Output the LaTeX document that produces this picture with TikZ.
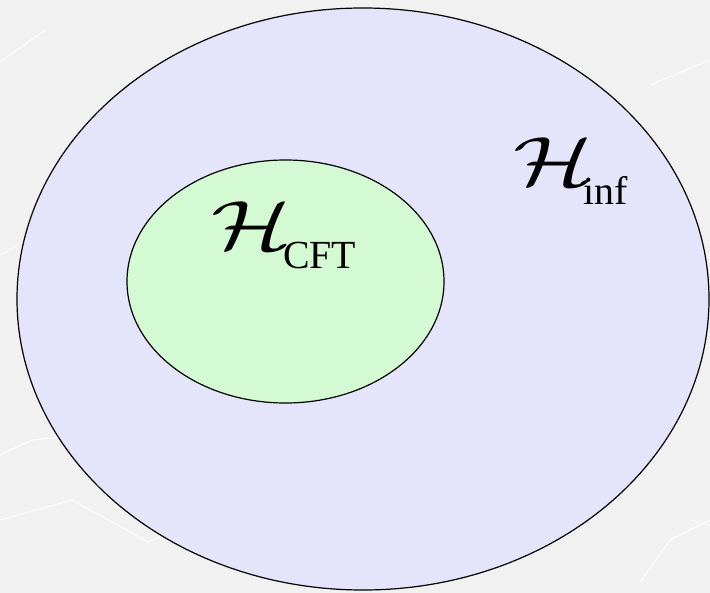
\RequirePackage{fix-cm}
\documentclass[tikz,border=0pt]{standalone}
\usepackage{amsmath}
\usepackage{graphicx}
\usepackage{fontspec}
\setmainfont{Liberation Serif}
\usetikzlibrary{shapes.geometric}
\definecolor{bgcol}{RGB}{241,241,241}
\definecolor{outerfill}{RGB}{228,228,251}
\definecolor{innerfill}{RGB}{212,250,212}
\newcommand{\bigH}{\scalebox{1.35}[1]{\fontsize{70}{80}\selectfont$\mathcal{H}$}}
\tikzset{
  region/.style={draw=black, line width=1.2bp},
  hglyph/.style={inner sep=0pt, anchor=base west},
  subtext/.style={font=\fontsize{40}{48}\selectfont, inner sep=0pt, anchor=base west},
  bgline/.style={draw=white, line width=1.2bp, opacity=0.8}
}
\begin{document}
\begin{tikzpicture}[x=1bp,y=-1bp]
\fill[bgcol] (0,0) rectangle (710,593);
\useasboundingbox (0,0) rectangle (710,593);
% faint background texture lines
\draw[bgline] (0,62) -- (45,30);
\draw[bgline] (0,520) -- (72,500) -- (148,542) -- (200,520);
\draw[bgline] (0,455) -- (32,440) -- (90,434);
\draw[bgline] (650,85) -- (710,60);
\draw[bgline] (640,582) -- (670,540) -- (710,520);
\draw[bgline] (0,255) -- (18,245);
\draw[bgline] (690,520) -- (710,525);
% regions
\node[region, ellipse, fill=outerfill, minimum width=692bp, minimum height=582bp, inner sep=0pt] (outer) at (363,299) {};
\node[region, ellipse, fill=innerfill, minimum width=317bp, minimum height=243bp, inner sep=0pt] (inner) at (285.5,281.5) {};
% labels
\node[hglyph] (hcft) at (211,249) {\bigH};
\node[subtext] (scft) at (283,268) {CFT};
\node[hglyph] (hinf) at (513,186) {\bigH};
\node[subtext] (sinf) at (583,205) {inf};
\end{tikzpicture}
\end{document}
